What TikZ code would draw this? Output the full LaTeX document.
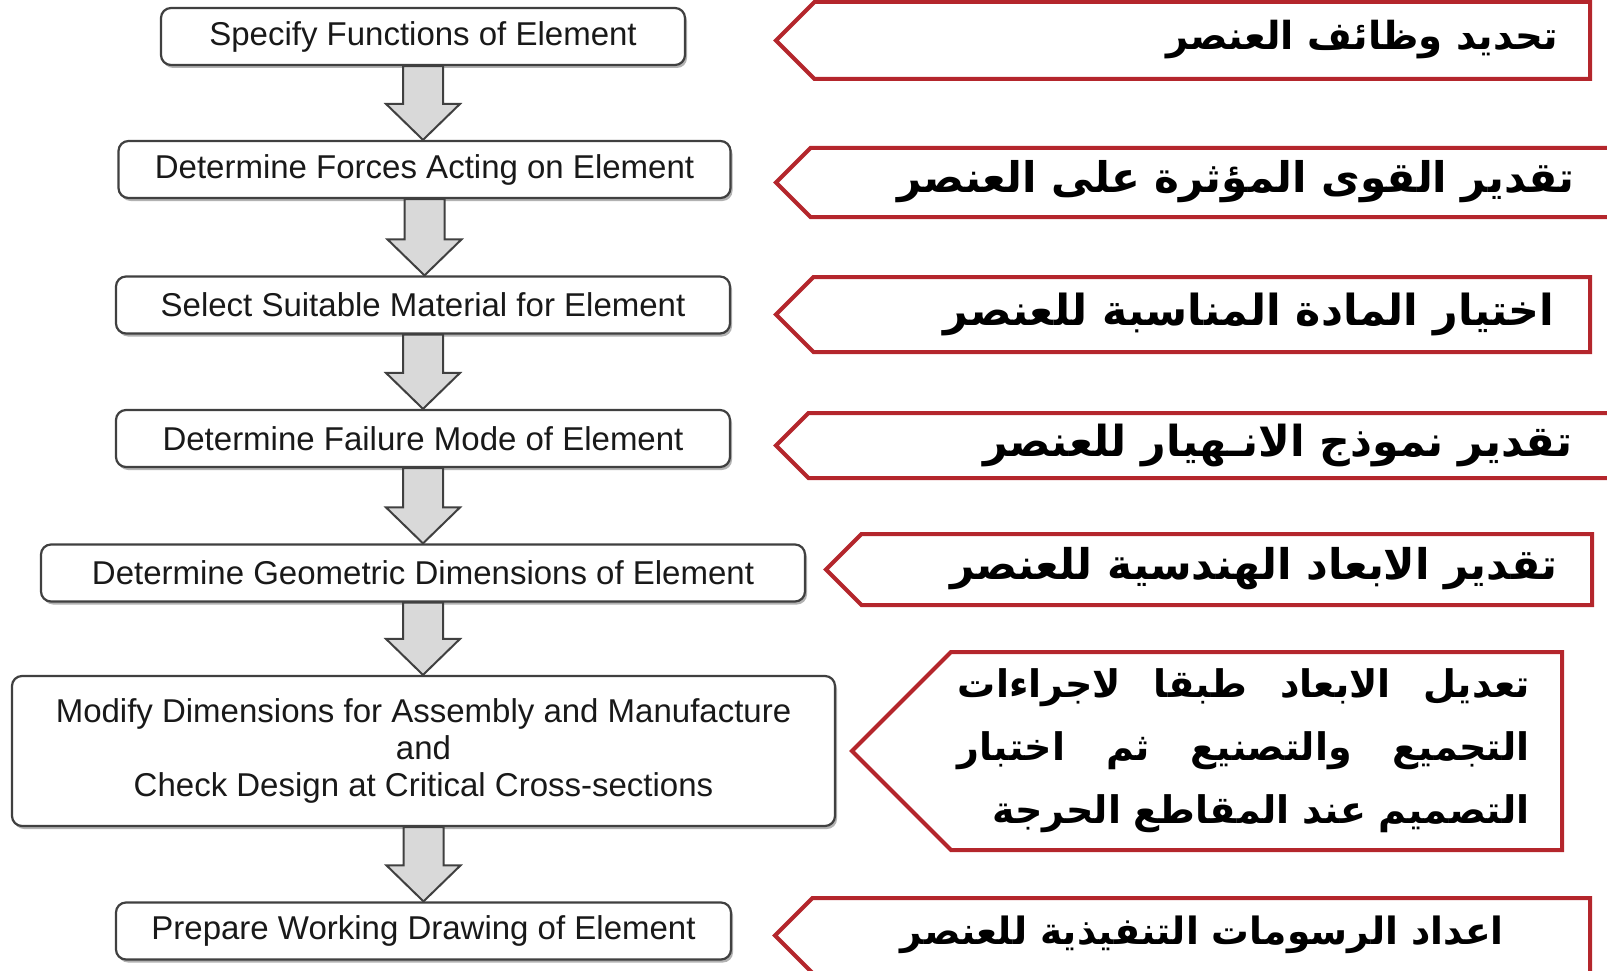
\documentclass[tikz,border=0pt]{standalone}
\usepackage{fontspec}
\setmainfont{Liberation Sans}
\newfontfamily\arabicfont[Script=Arabic]{DejaVu Sans}
\TeXXeTstate=1
\usetikzlibrary{shapes.symbols,shadows}
\definecolor{tagred}{RGB}{180,38,44}
\definecolor{boxline}{RGB}{64,64,64}

\begin{document}
\begin{tikzpicture}[x=1pt,y=-1pt,
  stepbox/.style={draw=boxline,line width=2.2pt,rounded corners=10pt,fill=white,inner sep=0pt,minimum height=57pt,
    text=black!90,font=\fontsize{33}{37}\selectfont,align=center,
    drop shadow={shadow xshift=2pt,shadow yshift=-3pt,fill=black!30,opacity=1}},
  tag/.style={signal,signal to=west,draw=tagred,line width=4pt,inner sep=0pt,outer sep=0pt,anchor=west},
  artext/.style={anchor=east,inner sep=0pt,font=\arabicfont\bfseries\fontsize{#1}{63}\selectfont},
  artext/.default=38,
  blockarrow/.style={draw=boxline,line width=2pt,fill=black!15,line join=miter}]
\path[use as bounding box,clip] (0,0) rectangle (1607,971);
\node[stepbox,minimum width=524pt] (s1) at (423,36.5) {Specify Functions of Element};
\node[stepbox,minimum width=612pt] (s2) at (424.5,169.5) {Determine Forces Acting on Element};
\node[stepbox,minimum width=614pt] (s3) at (423,305) {Select Suitable Material for Element};
\node[stepbox,minimum width=614pt] (s4) at (423,438.5) {Determine Failure Mode of Element};
\node[stepbox,minimum width=764pt] (s5) at (423,573) {Determine Geometric Dimensions of Element};
\node[stepbox,minimum width=823pt,minimum height=150pt] (s6) at (423.5,751) {Modify Dimensions for Assembly and Manufacture\\and\\Check Design at Critical Cross-sections};
\node[stepbox,minimum width=615pt] (s7) at (423.5,931) {Prepare Working Drawing of Element};
\foreach \a/\b in {s1/s2,s2/s3,s3/s4,s4/s5,s5/s6,s6/s7}
  \draw[blockarrow] ([xshift=-20pt]\a.south) -- ([xshift=-20pt,yshift=36pt]\a.south |- \b.north)
    -- ([xshift=-37pt,yshift=36pt]\a.south |- \b.north) -- (\a.south |- \b.north) -- ([xshift=37pt,yshift=36pt]\a.south |- \b.north)
    -- ([xshift=20pt,yshift=36pt]\a.south |- \b.north) -- ([xshift=20pt]\a.south) -- cycle;
\node[tag,minimum width=814pt,minimum height=77pt] (r1) at (776,40.5) {};
\node[tag,minimum width=850pt,minimum height=69pt] (r2) at (776,182.5) {};
\node[tag,minimum width=814pt,minimum height=75pt] (r3) at (776,314.5) {};
\node[tag,minimum width=850pt,minimum height=65pt] (r4) at (776,445.5) {};
\node[tag,minimum width=766pt,minimum height=71pt] (r5) at (826,569.5) {};
\node[tag,minimum width=710pt,minimum height=198pt] (r6) at (852,751) {};
\node[tag,minimum width=815pt,minimum height=75pt] (r7) at (775,935.5) {};
\node[artext=38.6] (t1) at (1558,40) {\beginR تحديد وظائف العنصر\endR};
\node[artext=42.2] (t2) at (1575,182) {\beginR تقدير القوى المؤثرة على العنصر\endR};
\node[artext=42.8] (t3) at (1555,314) {\beginR اختيار  المادة المناسبة للعنصر\endR};
\node[artext=42.7] (t4) at (1573,445) {\beginR تقدير نموذج الانـهيار للعنصر\endR};
\node[artext=42.3] (t5) at (1558,569) {\beginR تقدير الابعاد الهندسية للعنصر\endR};
\node[artext,text width=572pt,align=right] (t6) at (1530,751) {\beginR تعديل\hfill الابعاد\hfill طبقا\hfill لاجراءات\endR\\
  \beginR التجميع\hfill والتصنيع\hfill ثم\hfill اختبار\endR\\
  \beginR التصميم عند المقاطع الحرجة\endR};
\node[artext=37.6] (t7) at (1504,935) {\beginR اعداد الرسومات التنفيذية للعنصر\endR};
\end{tikzpicture}
\end{document}
